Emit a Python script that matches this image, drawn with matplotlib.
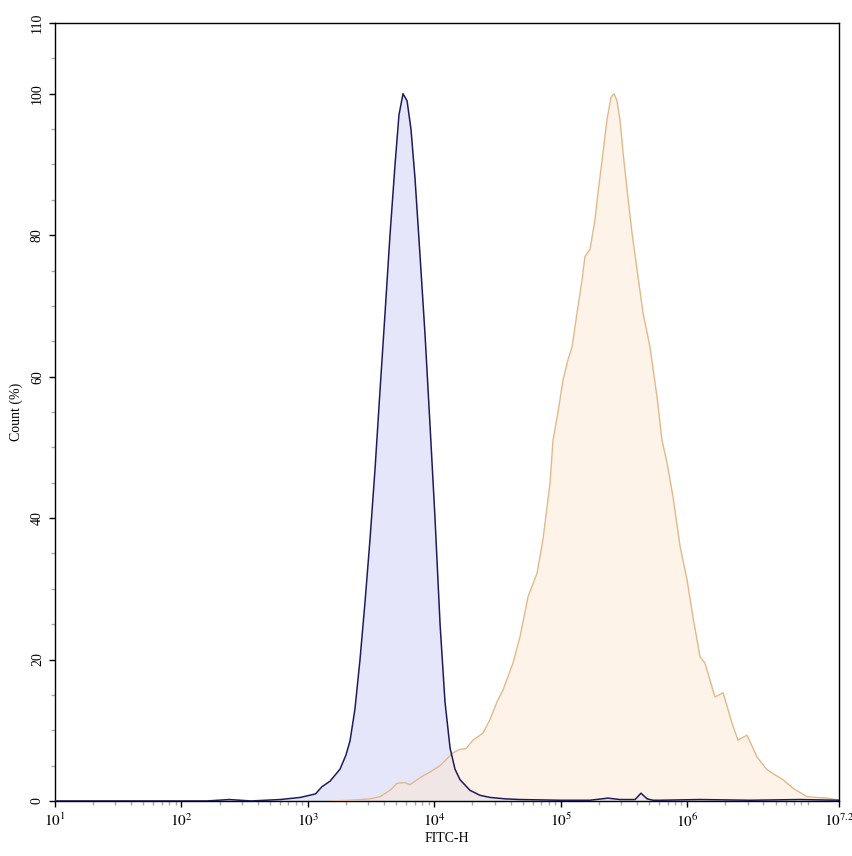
import numpy as np
import matplotlib
matplotlib.use('Agg')
import matplotlib.pyplot as plt
from matplotlib.ticker import FixedLocator, NullFormatter

plt.rcParams['font.family'] = ['Liberation Serif', 'DejaVu Serif']
plt.rcParams['mathtext.fontset'] = 'stix'

###############################################################################
# control (blue) histogram: log10(FITC-H) and count (%)
ctrl_log = [1.0, 2.2, 2.38, 2.55, 2.78, 2.94, 3.06, 3.11, 3.175, 3.254, 3.301,
            3.333, 3.372, 3.412, 3.451, 3.491, 3.531, 3.570, 3.610, 3.649,
            3.689, 3.720, 3.752, 3.784, 3.815, 3.847, 3.887, 3.926, 3.966,
            4.005, 4.045, 4.084, 4.124, 4.163, 4.203, 4.282, 4.361, 4.440,
            4.559, 4.677, 4.994, 5.23, 5.373, 5.468, 5.587, 5.634, 5.682,
            5.729, 5.785, 6.10, 6.50, 6.89, 7.2]
ctrl_pct = [0, 0, 0.2, 0, 0.2, 0.5, 1.0, 2.0, 2.8, 4.5, 6.5,
            8.5, 13, 20, 28, 37, 47, 58, 69, 80,
            90, 97, 100, 99, 95, 88, 77, 66, 53,
            40, 25, 14, 7.5, 4.5, 3.0, 1.5, 0.8, 0.5,
            0.3, 0.2, 0.1, 0.1, 0.4, 0.2, 0.2, 1.1, 0.3,
            0.1, 0.1, 0.2, 0.1, 0.2, 0.1]

# stained (orange) histogram
stain_log = [3.175, 3.333, 3.491, 3.570, 3.649, 3.705, 3.768, 3.807, 3.887,
             3.966, 4.045, 4.147, 4.203, 4.250, 4.306, 4.385, 4.440, 4.495,
             4.543, 4.622, 4.677, 4.741, 4.812, 4.859, 4.915, 4.938, 4.978,
             5.017, 5.057, 5.089, 5.128, 5.168, 5.191, 5.231, 5.270, 5.294,
             5.334, 5.365, 5.397, 5.421, 5.444, 5.468, 5.492, 5.524, 5.563,
             5.603, 5.650, 5.705, 5.761, 5.800, 5.840, 5.887, 5.943, 5.998,
             6.045, 6.101, 6.140, 6.219, 6.283, 6.354, 6.401, 6.472, 6.552,
             6.631, 6.757, 6.836, 6.947, 7.105, 7.2]
stain_pct = [0, 0.1, 0.3, 0.6, 1.5, 2.5, 2.6, 2.3, 3.3,
             4.1, 5.0, 6.8, 7.3, 7.4, 8.6, 9.6, 11.5, 14,
             15.7, 19.5, 23.2, 28.9, 32.2, 37, 45, 51, 55,
             59.5, 62.4, 64.2, 69, 73.7, 77, 78, 82.2, 86,
             91.7, 96.3, 99.5, 100, 99, 96.3, 91.7, 86.4, 80.3,
             75.1, 69, 64.2, 57.1, 51, 47.8, 43, 36, 31.3,
             26, 20.4, 19.5, 14.7, 15.3, 11, 8.6, 9.3, 6.2,
             4.4, 3.0, 1.8, 0.6, 0.4, 0.1]

x_ticks_log = [1, 2, 3, 4, 5, 6, 7.2]
x_tick_labels = [r'$10^{1}$', r'$10^{2}$', r'$10^{3}$', r'$10^{4}$',
                 r'$10^{5}$', r'$10^{6}$', r'$10^{7.2}$']
y_ticks = [0, 20, 40, 60, 80, 100, 110]
###############################################################################

fig = plt.figure(figsize=(8.53, 8.56), dpi=100)
ax = fig.add_axes([0.0645, 0.0643, 0.9191, 0.9088])

cx = 10 ** np.array(ctrl_log)
sx = 10 ** np.array(stain_log)

ax.fill_between(cx, ctrl_pct, 0, color='#e6e6fa', linewidth=0, zorder=1)
ax.fill_between(sx, stain_pct, 0, color='#fbe6cc', alpha=0.45, linewidth=0, zorder=2)
ax.plot(sx, stain_pct, color='#e2b98a', linewidth=1.0, zorder=3)
ax.plot(cx, ctrl_pct, color='#1c1c5c', linewidth=1.1, zorder=4)

ax.set_xscale('log')
ax.set_xlim(10 ** 1, 10 ** 7.2)
ax.set_ylim(0, 110)

ax.set_xticks([10 ** v for v in x_ticks_log])
ax.set_xticklabels(x_tick_labels, fontsize=11)
minor_x = [m * 10 ** d for d in range(1, 7) for m in range(2, 10)
           if m * 10 ** d < 10 ** 7.2]
ax.xaxis.set_minor_locator(FixedLocator(minor_x))
ax.xaxis.set_minor_formatter(NullFormatter())

ax.set_yticks(y_ticks)
ax.set_yticklabels([str(v) for v in y_ticks], rotation=90, va='center', fontsize=10)
ax.yaxis.set_minor_locator(FixedLocator([v for v in range(5, 110, 5) if v not in y_ticks]))

ax.tick_params(axis='both', which='major', length=4, width=1, color='black', pad=4)
ax.tick_params(axis='both', which='minor', length=3, width=1, color='#aaaaaa')

for s in ax.spines.values():
    s.set_linewidth(1.0)
    s.set_color('black')

ax.set_xlabel('FITC-H', fontsize=10, labelpad=2)
ax.set_ylabel('Count (%)', fontsize=10, labelpad=6)

fig.savefig('out.png', dpi=100)
